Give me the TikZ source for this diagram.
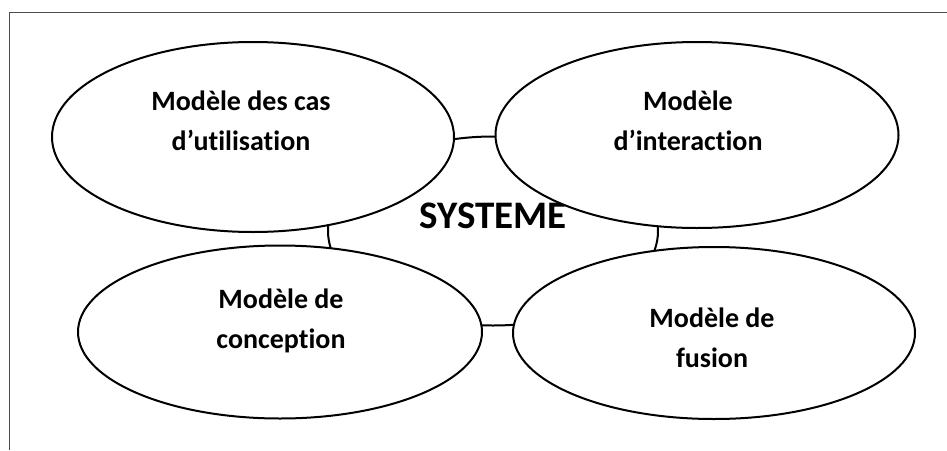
\documentclass[tikz,border=0pt]{standalone}
\usepackage{fontspec}
\setmainfont{Carlito}[Ligatures=NoCommon]
\usetikzlibrary{shapes.geometric}
\begin{document}
\begin{tikzpicture}[x=1pt,y=-1pt,
  model/.style={ellipse,draw=black,line width=2pt,fill=white,inner sep=0pt},
  caption/.style={font=\bfseries\fontsize{28}{40}\selectfont,align=center,inner sep=0pt},
  frame/.style={draw=black!70,line width=1pt}]
  \useasboundingbox (0,0) rectangle (947,450);
  % open frame: top and left edges only
  \draw[frame] (9,450) -- (9,12) -- (947,12);
  % central system ellipse, partly hidden by the four models
  \node[model,minimum width=330pt,minimum height=189pt] (sys) at (493,231) {};
  \node[font=\bfseries\fontsize{39}{39}\selectfont,inner sep=0pt] (systxt) at (493,216) {SYSTEME};
  % the four models
  \node[model,minimum width=402pt,minimum height=190pt] (uc) at (253,137) {};
  \node[model,minimum width=403pt,minimum height=186pt] (int) at (697,135) {};
  \node[model,minimum width=404pt,minimum height=173pt] (con) at (280,332) {};
  \node[model,minimum width=402pt,minimum height=172pt] (fus) at (714,333) {};
  \node[caption] (uctxt) at (241,121) {Modèle des cas\\d’utilisation};
  \node[caption] (inttxt) at (688,121) {Modèle\\d’interaction};
  \node[caption] (contxt) at (281,321) {Modèle de\\conception};
  \node[caption] (fustxt) at (712,338) {Modèle de\\fusion};
\end{tikzpicture}
\end{document}
